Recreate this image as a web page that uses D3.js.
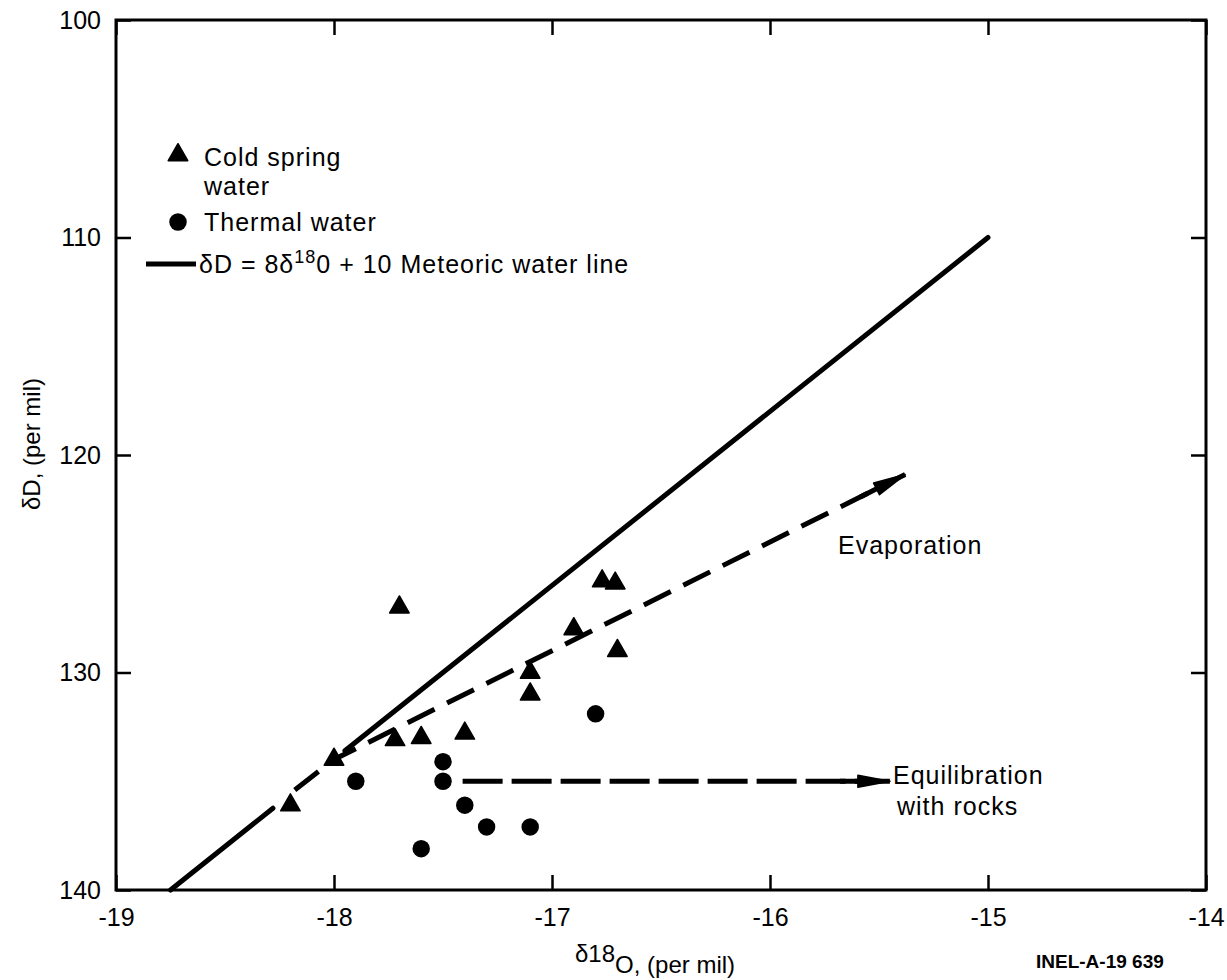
<!doctype html>
<html lang="en">
  <head>
    <meta charset="utf-8">
    <title>δD vs δ18O, cold spring and thermal water</title>
    <style>
      body { margin: 0; background: #fff; }
      svg { display: block; font-family: "Liberation Sans", Arial, sans-serif; }
      .tick text { font-size: 25px; fill: #000; }
      .tick line { stroke: #000; stroke-width: 2.5px; }
      .note { font-size: 25px; letter-spacing: 1px; }
    </style>
  </head>
  <body>
    <div class="chart"></div>

    <script src="https://d3js.org/d3.v7.min.js"></script>
    <script>
    // axis ticks
    var xTicks = [-19, -18, -17, -16, -15, -14];
    var yTicks = [100, 110, 120, 130, 140];

    // cold spring water (triangles): [d18O, dD]
    var coldSpring = [
      [-18.2, 136.1], [-18.0, 134.0], [-17.7, 127.0], [-17.72, 133.1],
      [-17.6, 133.0], [-17.4, 132.8], [-17.1, 130.0], [-17.1, 131.0],
      [-16.9, 128.0], [-16.77, 125.8], [-16.71, 125.9], [-16.7, 129.0]
    ];

    // thermal water (circles)
    var thermal = [
      [-17.9, 135.0], [-17.5, 134.1], [-17.5, 135.0], [-17.4, 136.1],
      [-17.3, 137.1], [-17.1, 137.1], [-17.6, 138.1], [-16.8, 131.9]
    ];

    // meteoric water line dD = 8 d18O + 10, drawn in two pieces (gap near -18)
    var meteoricPieces = [[-18.75, -18.28], [-17.95, -15]];

    // trend arrows
    var evaporation = [[-18.18, 135.4], [-18.0, 134.0], [-15.38, 120.9]];
    var equilibration = [[-17.41, 135.0], [-15.45, 135.0]];

    var width = 1227, height = 980;
    var svg = d3.select(".chart")
        .append("svg")
        .attr("width", width)
        .attr("height", height);

    var x = d3.scaleLinear().domain([-19, -14]).range([116, 1206]);
    var y = d3.scaleLinear().domain([100, 140]).range([20, 890]);

    var fmt = function(d) { return String(d); };

    // axes with inward ticks on all four sides
    svg.append("g")
      .attr("transform", "translate(0," + y(140) + ")")
      .call(d3.axisBottom(x).tickValues(xTicks).tickFormat(fmt).tickSize(-15).tickPadding(18))
      .call(g => g.select(".domain").remove());

    svg.append("g")
      .attr("transform", "translate(0," + y(100) + ")")
      .call(d3.axisTop(x).tickValues(xTicks).tickFormat("").tickSize(-15))
      .call(g => g.select(".domain").remove());

    svg.append("g")
      .attr("transform", "translate(" + x(-19) + ",0)")
      .call(d3.axisLeft(y).tickValues(yTicks).tickFormat(fmt).tickSize(-15).tickPadding(15))
      .call(g => g.select(".domain").remove());

    svg.append("g")
      .attr("transform", "translate(" + x(-14) + ",0)")
      .call(d3.axisRight(y).tickValues(yTicks).tickFormat("").tickSize(-15))
      .call(g => g.select(".domain").remove());

    // frame
    svg.append("rect")
      .attr("x", x(-19)).attr("y", y(100))
      .attr("width", x(-14) - x(-19)).attr("height", y(140) - y(100))
      .attr("fill", "none").attr("stroke", "#000").attr("stroke-width", 3);

    var line = d3.line().x(d => x(d[0])).y(d => y(d[1]));

    // meteoric water line
    svg.selectAll(".mwl")
      .data(meteoricPieces)
      .join("path")
      .attr("class", "mwl")
      .attr("d", d => line([[d[0], -(8 * d[0] + 10)], [d[1], -(8 * d[1] + 10)]]))
      .attr("fill", "none")
      .attr("stroke", "#000")
      .attr("stroke-width", 5)
      .attr("stroke-linecap", "round");

    // dashed arrows: dashed shaft, solid stub and a slim filled head
    function unitDir(pts) {
      var a = pts[pts.length - 2], b = pts[pts.length - 1];
      var dx = x(b[0]) - x(a[0]), dy = y(b[1]) - y(a[1]);
      var l = Math.sqrt(dx * dx + dy * dy);
      return [dx / l, dy / l];
    }

    function arrow(pts, dash, len, half) {
      var u = unitDir(pts), ux = u[0], uy = u[1];
      var b = pts[pts.length - 1];
      var x1 = x(b[0]), y1 = y(b[1]);
      var bx = x1 - ux * len, by = y1 - uy * len;

      svg.append("path")
        .attr("d", line(pts))
        .attr("fill", "none")
        .attr("stroke", "#000")
        .attr("stroke-width", 5)
        .attr("stroke-dasharray", dash);

      // solid stub behind the head
      svg.append("line")
        .attr("x1", bx - ux * 18).attr("y1", by - uy * 18)
        .attr("x2", bx + ux * 4).attr("y2", by + uy * 4)
        .attr("stroke", "#000").attr("stroke-width", 5);

      svg.append("path")
        .attr("d", "M" + x1 + "," + y1 +
          "L" + (bx - uy * half) + "," + (by + ux * half) +
          "L" + (bx + uy * half) + "," + (by - ux * half) + "Z")
        .attr("fill", "#000")
        .attr("stroke", "#000")
        .attr("stroke-width", 1.5)
        .attr("stroke-linejoin", "round");
    }

    arrow(evaporation, "30,14", 32, 6.5);
    arrow(equilibration, "40,9", 32, 6);

    // points
    var tri = d3.symbol().type(d3.symbolTriangle).size(165);
    var dot = d3.symbol().type(d3.symbolCircle).size(240);

    svg.selectAll(".cold")
      .data(coldSpring)
      .join("path")
      .attr("class", "cold")
      .attr("d", tri)
      .attr("transform", d => "translate(" + x(d[0]) + "," + y(d[1]) + ")")
      .attr("fill", "#000")
      .attr("stroke", "#000")
      .attr("stroke-width", 1.5)
      .attr("stroke-linejoin", "round");

    svg.selectAll(".thermal")
      .data(thermal)
      .join("path")
      .attr("class", "thermal")
      .attr("d", dot)
      .attr("transform", d => "translate(" + x(d[0]) + "," + y(d[1]) + ")")
      .attr("fill", "#000");

    // legend
    var legend = svg.append("g");
    legend.append("path").attr("d", tri).attr("transform", "translate(178,155)")
      .attr("stroke", "#000").attr("stroke-width", 1.5).attr("stroke-linejoin", "round");
    legend.append("text").attr("class", "note").attr("x", 204).attr("y", 166).text("Cold spring");
    legend.append("text").attr("class", "note").attr("x", 204).attr("y", 195).text("water");
    legend.append("path").attr("d", dot).attr("transform", "translate(178,222)");
    legend.append("text").attr("class", "note").attr("x", 204).attr("y", 231).text("Thermal water");
    legend.append("line")
      .attr("x1", 146).attr("x2", 196).attr("y1", 264).attr("y2", 264)
      .attr("stroke", "#000").attr("stroke-width", 5);
    var eq = legend.append("text").attr("class", "note").attr("x", 199).attr("y", 273);
    eq.append("tspan").text("δD = 8δ");
    eq.append("tspan").attr("dy", -10).style("font-size", "18px").text("18");
    eq.append("tspan").attr("dy", 10).text("0 + 10 Meteoric water line");

    // annotations
    svg.append("text").attr("class", "note").attr("x", 838).attr("y", 554).text("Evaporation");
    svg.append("text").attr("class", "note").attr("x", 893).attr("y", 784).text("Equilibration");
    svg.append("text").attr("class", "note").attr("x", 897).attr("y", 815).text("with rocks");

    // axis titles
    var xt = svg.append("text").attr("x", 575).attr("y", 962).style("font-size", "24px");
    xt.append("tspan").text("δ18");
    xt.append("tspan").attr("dy", 11).text("O, (per mil)");

    svg.append("text")
      .attr("transform", "translate(40,444) rotate(-90)")
      .attr("text-anchor", "middle")
      .style("font-size", "24px")
      .text("δD, (per mil)");

    svg.append("text")
      .attr("x", 1036).attr("y", 968)
      .style("font-family", "'Liberation Sans Narrow', 'Liberation Sans', sans-serif")
      .style("font-size", "19px")
      .style("font-weight", "bold")
      .text("INEL-A-19 639");
    </script>
  </body>
</html>
